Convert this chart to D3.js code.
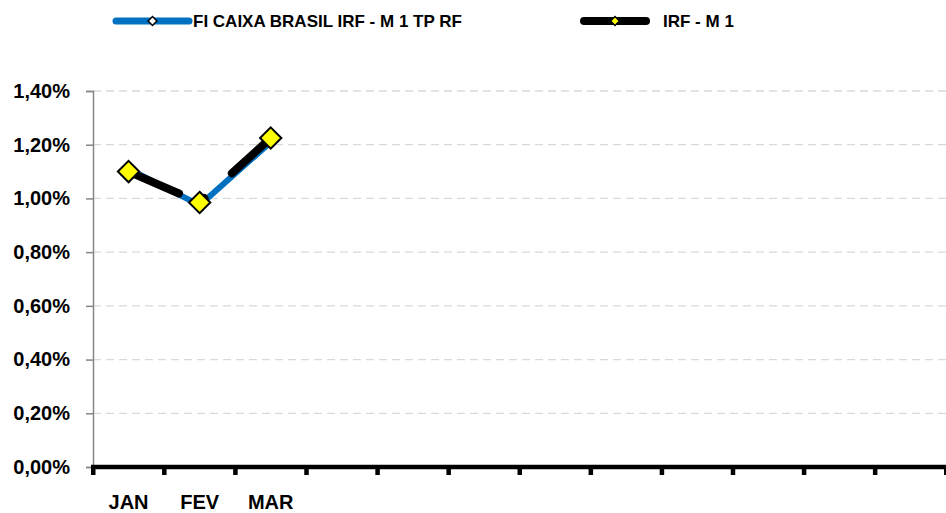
<!DOCTYPE html>
<html>
<head>
<meta charset="utf-8">
<script src="https://cdn.jsdelivr.net/npm/d3@7"></script>
<style>
  body { margin: 0; background: #fff; }
  svg text { font-family: "Liberation Sans", Arial, sans-serif; font-weight: bold; fill: #000; }
</style>
</head>
<body>
<div id="chart"></div>
<script>
// months (only first three carry a label in the original)
var months = ["JAN", "FEV", "MAR", "ABR", "MAI", "JUN", "JUL", "AGO", "SET", "OUT", "NOV", "DEZ"];
var monthLabels = ["JAN", "FEV", "MAR", "", "", "", "", "", "", "", "", ""];
var fundValues = [1.11, 0.975, 1.21];   // FI CAIXA BRASIL IRF - M 1 TP RF (%)
var indexValues = [1.10, 0.985, 1.225]; // IRF - M 1 (%)
var yTicks = [0, 0.2, 0.4, 0.6, 0.8, 1.0, 1.2, 1.4];
var seriesNames = ["FI CAIXA BRASIL IRF - M 1 TP RF", "IRF - M 1"];

var width = 946, height = 513,
    margin = {top: 91, right: 0, bottom: 46, left: 93};

var svg = d3.select("#chart").append("svg")
    .attr("width", width)
    .attr("height", height);

var x = d3.scaleBand().domain(months).range([margin.left, width - margin.right]).padding(0);
var y = d3.scaleLinear().domain([0, 1.4]).range([height - margin.bottom, margin.top]);

var fmt = function(v) { return v.toFixed(2).replace(".", ",") + "%"; };

// gridlines
svg.append("g")
    .selectAll("line")
    .data(yTicks.filter(function(d) { return d > 0; }))
    .enter().append("line")
    .attr("x1", margin.left)
    .attr("x2", width)
    .attr("y1", function(d) { return y(d); })
    .attr("y2", function(d) { return y(d); })
    .attr("stroke", "#d9d9d9")
    .attr("stroke-width", 1.3)
    .attr("stroke-dasharray", "8,5");

// Y axis
var yAxis = svg.append("g")
    .attr("transform", "translate(" + margin.left + ",0)")
    .call(d3.axisLeft(y).tickValues(yTicks).tickFormat(fmt).tickSize(7).tickPadding(16));
yAxis.select(".domain").attr("stroke", "#868686").attr("stroke-width", 1.5);
yAxis.selectAll(".tick line").attr("stroke", "#868686").attr("stroke-width", 1.5);
yAxis.selectAll(".tick text").style("font-size", "20px").style("font-family", "Liberation Sans, Arial, sans-serif").style("font-weight", "bold");

// X axis: thick line with tick marks at category boundaries
var base = y(0);
svg.append("line")
    .attr("x1", margin.left - 2)
    .attr("x2", width)
    .attr("y1", base)
    .attr("y2", base)
    .attr("stroke", "#000")
    .attr("stroke-width", 4.5);

var bounds = months.map(function(m) { return x(m); }).concat([x.range()[1]]);
svg.append("g")
    .selectAll("rect")
    .data(bounds)
    .enter().append("rect")
    .attr("x", function(d) { return d - 2; })
    .attr("y", base)
    .attr("width", 4.5)
    .attr("height", 8)
    .attr("fill", "#000");

svg.append("g")
    .selectAll("text")
    .data(months)
    .enter().append("text")
    .attr("x", function(d) { return x(d) + x.bandwidth() / 2; })
    .attr("y", base + 42)
    .attr("text-anchor", "middle")
    .style("font-size", "20px")
    .text(function(d, i) { return monthLabels[i]; });

// lines
var line = d3.line()
    .x(function(d, i) { return x(months[i]) + x.bandwidth() / 2; })
    .y(function(d) { return y(d); });

svg.append("path")
    .datum(fundValues)
    .attr("d", line)
    .attr("fill", "none")
    .attr("stroke", "#0070c0")
    .attr("stroke-width", 6)
    .attr("stroke-linejoin", "round");

svg.append("path")
    .datum(indexValues)
    .attr("d", line)
    .attr("fill", "none")
    .attr("stroke", "#000")
    .attr("stroke-width", 8)
    .attr("stroke-linecap", "round")
    .attr("stroke-dasharray", "55,25,4,37,200");

var diamond = d3.symbol().type(d3.symbolDiamond2);

svg.append("g")
    .selectAll("path")
    .data(fundValues)
    .enter().append("path")
    .attr("transform", function(d, i) { return "translate(" + (x(months[i]) + x.bandwidth() / 2) + "," + y(d) + ")"; })
    .attr("d", diamond.size(60))
    .attr("fill", "#fff")
    .attr("stroke", "#000")
    .attr("stroke-width", 1.5);

svg.append("g")
    .selectAll("path")
    .data(indexValues)
    .enter().append("path")
    .attr("transform", function(d, i) { return "translate(" + (x(months[i]) + x.bandwidth() / 2) + "," + y(d) + ")"; })
    .attr("d", d3.symbol().type(d3.symbolDiamond2).size(290))
    .attr("fill", "#ffff00")
    .attr("stroke", "#000")
    .attr("stroke-width", 2);

// legend
var legend = [
  {name: seriesNames[0], x1: 116, x2: 189, tx: 193, color: "#0070c0", w: 7, mfill: "#fff"},
  {name: seriesNames[1], x1: 584, x2: 646, tx: 663, color: "#000", w: 8, mfill: "#ffff00"}
];
var lg = svg.append("g").selectAll("g").data(legend).enter().append("g");
lg.append("line")
    .attr("x1", function(d) { return d.x1; })
    .attr("x2", function(d) { return d.x2; })
    .attr("y1", 21).attr("y2", 21)
    .attr("stroke", function(d) { return d.color; })
    .attr("stroke-width", function(d) { return d.w; })
    .attr("stroke-linecap", "round");
lg.append("path")
    .attr("transform", function(d) { return "translate(" + (d.x1 + d.x2) / 2 + ",21)"; })
    .attr("d", d3.symbol().type(d3.symbolDiamond2).size(50))
    .attr("fill", function(d) { return d.mfill; })
    .attr("stroke", "#000")
    .attr("stroke-width", 1.5);
lg.append("text")
    .attr("x", function(d) { return d.tx; })
    .attr("y", 27)
    .style("font-size", "17px")
    .text(function(d) { return d.name; });
</script>
</body>
</html>
